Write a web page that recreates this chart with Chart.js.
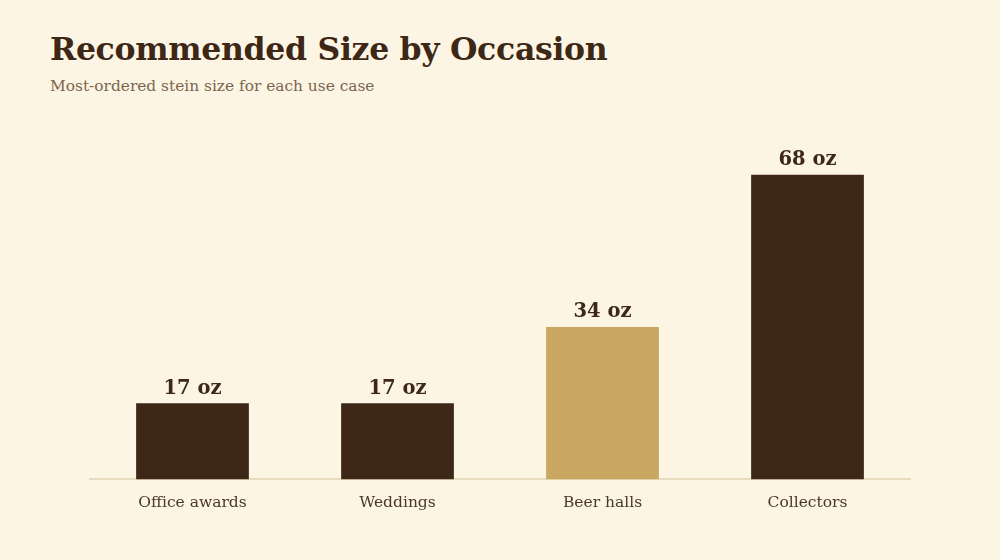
<!DOCTYPE html>
<html>
<head>
<meta charset="utf-8">
<script src="https://cdn.jsdelivr.net/npm/chart.js@4"></script>
<style>
  html, body { margin: 0; padding: 0; background: #fdf5e3; }
  #wrap { position: relative; width: 1000px; height: 560px; }
  h1 { position: absolute; left: 50px; top: 30px; margin: 0; font: bold 31.5px "DejaVu Serif", serif; color: #3d2818; letter-spacing: -0.3px; }
  p.sub { position: absolute; left: 50px; top: 77px; margin: 0; font: 15.4px "DejaVu Serif", serif; color: #7a6550; }
  canvas { position: absolute; left: 0; top: 0; }
</style>
</head>
<body>
<div id="wrap">
  <h1>Recommended Size by Occasion</h1>
  <p class="sub">Most-ordered stein size for each use case</p>
  <canvas id="chart" width="1000" height="560"></canvas>
</div>
<script>
// chart data
const occasions = ['Office awards', 'Weddings', 'Beer halls', 'Collectors'];
const sizesOz = [17, 17, 34, 68];
const barColors = ['#3d2818', '#3d2818', '#c9a662', '#3d2818'];

// value labels above each bar
const valueLabels = {
  id: 'valueLabels',
  afterDatasetsDraw(chart) {
    const { ctx } = chart;
    const meta = chart.getDatasetMeta(0);
    ctx.save();
    ctx.font = 'bold 19.5px "DejaVu Serif", serif';
    ctx.fillStyle = '#3d2818';
    ctx.textAlign = 'center';
    ctx.textBaseline = 'bottom';
    meta.data.forEach((bar, i) => {
      ctx.fillText(sizesOz[i] + ' oz', bar.x, bar.y - 5);
    });
    ctx.restore();
  }
};

new Chart(document.getElementById('chart').getContext('2d'), {
  type: 'bar',
  data: {
    labels: occasions,
    datasets: [{ data: sizesOz, backgroundColor: barColors, borderWidth: 0 }]
  },
  options: {
    responsive: false,
    animation: false,
    layout: { padding: { left: 90, right: 90, top: 121, bottom: 42 } },
    plugins: { legend: { display: false }, tooltip: { enabled: false } },
    datasets: { bar: { categoryPercentage: 1, barPercentage: 0.55 } },
    scales: {
      y: { display: false, beginAtZero: true, min: 0, max: 80 },
      x: {
        grid: { display: false },
        border: { color: '#e8dcc0', width: 2 },
        ticks: { color: '#4a3828', padding: 6, font: { family: '"DejaVu Serif", serif', size: 15.5 } }
      }
    }
  },
  plugins: [valueLabels]
});
</script>
</body>
</html>
